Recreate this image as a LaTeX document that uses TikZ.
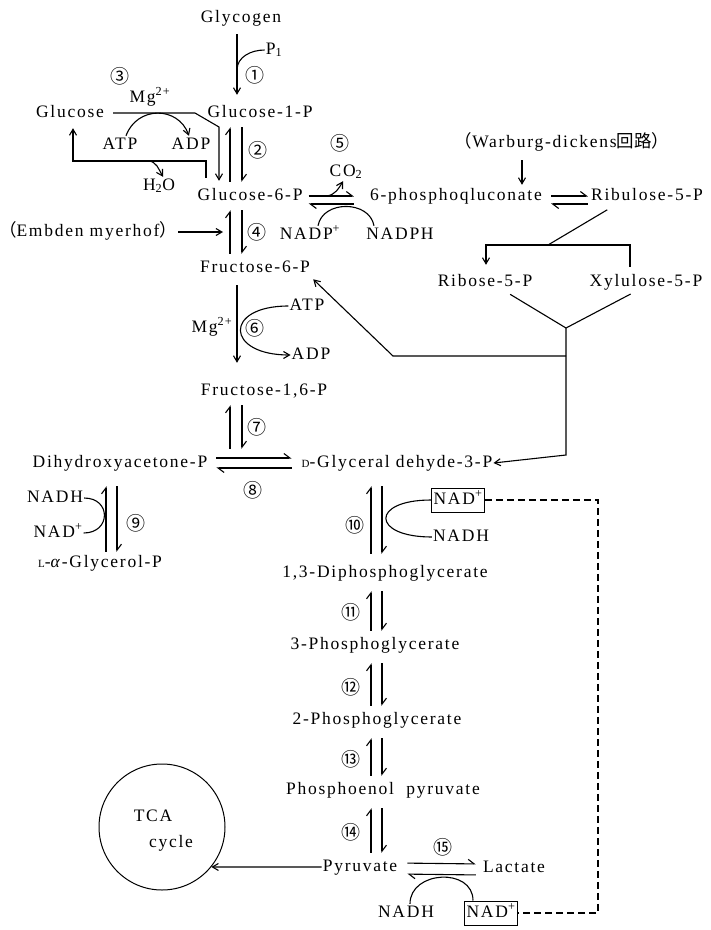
\documentclass[tikz,border=0pt]{standalone}
\usepackage{fontspec}
\setmainfont{Liberation Serif}[LetterSpace=10]
\newfontfamily\cjk{Noto Sans CJK JP}
\usetikzlibrary{arrows.meta,calc}
\tikzset{
  mol/.style={font=\fontsize{17.5}{17.5}\selectfont, inner sep=1pt, text height=12pt, text depth=4pt},
  num/.style={font=\cjk\fontsize{19}{19}\selectfont, inner sep=0pt},
  boxed/.style={mol, draw, line width=1pt, inner xsep=2pt, inner ysep=4pt},
  pool/.style={circle, draw, line width=1pt, minimum size=126pt, inner sep=0pt},
  rxn/.style={line width=1.1pt},
  arr/.style={rxn, -{Straight Barb[length=6pt,width=7pt]}},
  hp/.style={rxn, -{Straight Barb[harpoon,length=6pt,width=9pt]}, shorten <=5pt, shorten >=5pt},
  dsh/.style={rxn, dash pattern=on 7pt off 4pt},
}
\newcommand{\smc}[1]{{\fontsize{11}{11}\selectfont #1}}

\begin{document}
\begin{tikzpicture}[x=1pt,y=-1pt]
\useasboundingbox (0,0) rectangle (711,930);
% columns of the reaction arrows
\coordinate (cU) at (230,0);
\coordinate (cD) at (242,0);
\coordinate (cM) at (237,0);
\coordinate (cG) at (219,0);
\coordinate (cW) at (522,0);
\coordinate (c9u) at (106,0);
\coordinate (c9d) at (117,0);
\coordinate (cL) at (371,0);
\coordinate (cR) at (382,0);
\coordinate (dR) at (598,0);

% ---- upper part ----
\node[mol] (glyc) at (241,18) {Glycogen};
\node[mol] (p1) at (274,50) {P\textsubscript{1}};
\node[num] (n1) at (255,75) {①};
\node[num] (n3) at (120,76) {③};
\node[mol] (glc) at (70,113) {Glucose};
\node[mol] (mg1) at (150,98) {Mg\textsuperscript{2+}};
\node[mol] (g1p) at (260,113) {Glucose-1-P};
\node[mol] (atp1) at (120,145) {ATP};
\node[mol] (adp1) at (191,145) {ADP};
\node[mol] (h2o) at (159,186) {H\textsubscript{2}O};
\node[num] (n2) at (258,150) {②};
\node[mol] (g6p) at (250,196) {Glucose-6-P};
\node[num] (n5) at (340,143) {⑤};
\node[mol] (co2) at (346,172) {CO\textsubscript{2}};
\node[mol] (pgl) at (456,196) {6-phosphoqluconate};
\node[mol] (wbg) at (562,143) {{\cjk （}Warburg-dickens{\cjk 回路）}};
\node[mol] (ribu) at (647,196) {Ribulose-5-P};
\node[mol] (nadp) at (310,235) {NADP\textsuperscript{+}};
\node[mol] (nadph) at (400,235) {NADPH};
\node[mol] (emb) at (88,232) {{\cjk （}Embden myerhof{\cjk ）}};
\node[num] (n4) at (257,232) {④};
\node[mol] (f6p) at (255,268) {Fructose-6-P};
\node[mol] (ribo) at (485,282) {Ribose-5-P};
\node[mol] (xyl) at (646,282) {Xylulose-5-P};
\node[mol] (mg2) at (212,328) {Mg\textsuperscript{2+}};
\node[num] (n6) at (255,328) {⑥};
\node[mol] (atp2) at (307,306) {ATP};
\node[mol] (adp2) at (311,355) {ADP};
\node[mol] (f16p) at (264,391) {Fructose-1,6-P};

% ---- triose part ----
\node[num] (n7) at (257,427) {⑦};
\node[mol] (dhap) at (120,463) {Dihydroxyacetone-P};
\node[mol] (g3p) at (397,463) {\smc{D}-Glyceral dehyde-3-P};
\node[num] (n8) at (253,490) {⑧};
\node[mol] (nadh9) at (55,498) {NADH};
\node[mol] (nad9) at (58,533) {NAD\textsuperscript{+}};
\node[num] (n9) at (136,523) {⑨};
\node[mol] (glyp) at (100,563) {\smc{L}-\textit{α}-Glycerol-P};
\node[num] (n10) at (355,525) {⑩};
\node[boxed] (nadA) at (458,500) {NAD\textsuperscript{+}};
\node[mol] (nadh10) at (461,537) {NADH};
\node[mol] (dpg) at (385,573) {1,3-Diphosphoglycerate};

% ---- lower part ----
\node[num] (n11) at (351,612) {⑪};
\node[mol] (pg3) at (375,645) {3-Phosphoglycerate};
\node[num] (n12) at (351,687) {⑫};
\node[mol] (pg2) at (377,720) {2-Phosphoglycerate};
\node[num] (n13) at (351,759) {⑬};
\node[mol] (pep) at (383,790) {Phosphoenol\ \ pyruvate};
\node[num] (n14) at (351,832) {⑭};
\node[pool] (tca) at (162,827) {};
\node[mol] (tcat) at (153,817) {TCA};
\node[mol] (tcac) at (171,843) {cycle};
\node[mol] (pyr) at (360,867) {Pyruvate};
\node[num] (n15) at (443,847) {⑮};
\node[mol] (lac) at (514,868) {Lactate};
\node[mol] (nadh15) at (406,913) {NADH};
\node[boxed] (nadB) at (491,913) {NAD\textsuperscript{+}};

% ① and ②
\coordinate (j1) at (237,70);
\draw[arr, shorten <=7pt, shorten >=9pt] (glyc.south -| cM) -- (g1p.north -| cM);
\draw[rxn] (j1) to[out=90,in=180] (p1.west);
\draw[hp] (g6p.north -| cU) -- (g1p.south -| cU);
\draw[hp] (g1p.south -| cD) -- (g6p.north -| cD);
% ③
\coordinate (hc) at (206,161);
\coordinate (hl) at (73,161);
\coordinate (hj) at (148,161);
\draw[arr, shorten <=8pt, shorten >=6pt] (glc.east) -- (195,113) -- (219,127) -- (g6p.north -| cG);
\draw[arr, shorten <=9pt, shorten >=6pt] (g6p.north -| hc) -- (hc) -- (hl) -- (glc.south -| hl);
\draw[arr] (hj) to[out=0,in=120] ([xshift=4pt]h2o.north);
\draw[arr] ([xshift=6pt]atp1.north) to[out=70,in=110,looseness=1.3] ([xshift=-2pt]adp1.north);
% ④
\draw[hp] (f6p.north -| cU) -- (g6p.south -| cU);
\draw[hp] (g6p.south -| cD) -- (f6p.north -| cD);
\draw[arr, shorten >=7pt] (emb.east) -- (emb.east -| cU);
% ⑤ and Warburg-dickens
\coordinate (j5) at (327,196);
\draw[hp, shorten >=15pt] (g6p.east) -- (pgl.west);
\draw[hp, shorten <=15pt] ([yshift=-8pt]pgl.west) -- ([yshift=-8pt]g6p.east);
\draw[arr] (j5) to[out=10,in=-120] ([xshift=-3pt]co2.south);
\draw[rxn] ([xshift=8pt]nadp.north) to[out=80,in=100,looseness=1.2] ([xshift=-26pt]nadph.north);
\draw[arr, shorten <=8pt, shorten >=2pt] (wbg.south -| cW) -- (pgl.north -| cW);
\draw[hp, shorten <=8pt, shorten >=2pt] (pgl.east) -- (ribu.west);
\draw[hp, shorten <=2pt, shorten >=8pt] ([yshift=-8pt]ribu.west) -- ([yshift=-8pt]pgl.east);
% pentose branch
\coordinate (bj) at (548,245);
\coordinate (bl) at (486,245);
\coordinate (br) at (630,245);
\coordinate (vx) at (566,328);
\coordinate (vj) at (566,356);
\coordinate (vd) at (566,455);
\coordinate (vf) at (393,356);
\draw[rxn, shorten <=9pt] ([xshift=-32pt]ribu.south) -- (bj);
\draw[arr, shorten <=6pt, shorten >=8pt] (xyl.north -| br) -- (br) -- (bl) -- (ribo.north -| bl);
\draw[rxn, shorten <=6pt, shorten >=6pt] ([xshift=20pt]ribo.south) -- (vx) -- ([xshift=-10pt]xyl.south);
\draw[arr] (vx) -- (vd) -- (g3p.east);
\draw[arr, shorten >=3pt] (vj) -- (vf) -- (f6p.south east);
% ⑥
\draw[arr, shorten <=8pt, shorten >=19pt] (f6p.south -| cM) -- (f16p.north -| cM);
\draw[arr] (atp2.west) to[out=180,in=180,looseness=3.4] (adp2.west);
% ⑦ ⑧
\draw[hp] (dhap.north -| cU) -- (f16p.south -| cU);
\draw[hp] (f16p.south -| cD) -- (dhap.north -| cD);
\draw[hp, shorten <=8pt, shorten >=9pt] ([yshift=5pt]dhap.east) -- ([yshift=5pt]g3p.west);
\draw[hp, shorten <=9pt, shorten >=8pt] ([yshift=-5pt]g3p.west) -- ([yshift=-5pt]dhap.east);
% ⑨ ⑩
\draw[hp, shorten <=2pt, shorten >=14pt] (glyp.north -| c9u) -- (dhap.south -| c9u);
\draw[hp, shorten <=14pt, shorten >=2pt] (dhap.south -| c9d) -- (glyp.north -| c9d);
\draw[rxn] (nadh9.east) to[out=0,in=0,looseness=2] (nad9.east);
\draw[hp, shorten <=10pt, shorten >=14pt] (dpg.north -| cL) -- (g3p.south -| cL);
\draw[hp, shorten <=14pt, shorten >=10pt] (g3p.south -| cR) -- (dpg.north -| cR);
\draw[rxn] (nadA.west) to[out=180,in=180,looseness=4.2] (nadh10.west);
% ⑪ - ⑭
\foreach \a/\b in {dpg/pg3,pg3/pg2,pg2/pep,pep/pyr}{
  \draw[hp, shorten >=9pt] (\b.north -| cL) -- (\a.south -| cL);
  \draw[hp, shorten <=9pt] (\a.south -| cR) -- (\b.north -| cR);
}
% ⑮ and TCA
\draw[arr] (pyr.west) -- (tca.-39);
\draw[hp, shorten <=9pt, shorten >=6pt] ([yshift=4pt]pyr.east) -- ([yshift=4pt]lac.west);
\draw[hp, shorten <=6pt, shorten >=9pt] ([yshift=-7pt]lac.west) -- ([yshift=-7pt]pyr.east);
\draw[rxn] ([xshift=4pt]nadh15.north) to[out=90,in=90,looseness=1.35] ([xshift=-18pt]nadB.north);
% NAD+ recycling
\draw[dsh] (nadA.east) -- (nadA.east -| dR) -- (nadB.east -| dR) -- (nadB.east);
\end{tikzpicture}
\end{document}
